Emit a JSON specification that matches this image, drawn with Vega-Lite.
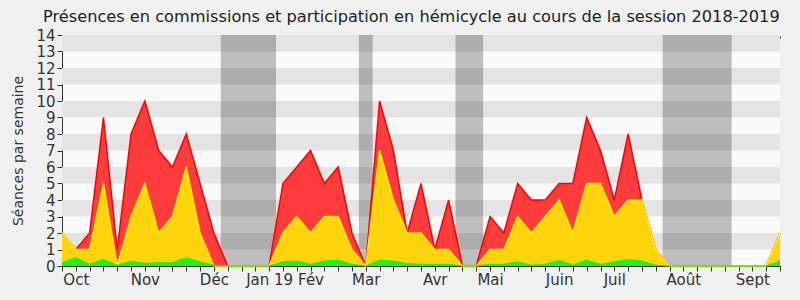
{
  "$schema": "https://vega.github.io/schema/vega-lite/v6.json",
  "width": 718,
  "height": 231,
  "autosize": {"type": "none"},
  "padding": {"left": 62, "top": 35, "right": 20, "bottom": 34},
  "background": "#f0f0f0",
  "title": {
    "text": "Présences en commissions et participation en hémicycle au cours de la session 2018-2019",
    "font": "DejaVu Sans",
    "fontSize": 16.2,
    "fontWeight": "normal",
    "color": "#222222",
    "anchor": "start",
    "frame": "group",
    "dx": -19,
    "offset": 3
  },
  "config": {
    "view": {"stroke": null, "fill": "#fafafa"},
    "axis": {"labelFont": "DejaVu Sans", "titleFont": "DejaVu Sans", "labelColor": "#333333", "titleColor": "#333333"}
  },
  "datasets": {
    "weeks": [
      {"w": 0, "t": 2, "h": 2, "g": 0.2},
      {"w": 1, "t": 1, "h": 1, "g": 0.5},
      {"w": 2, "t": 2, "h": 1, "g": 0.1},
      {"w": 3, "t": 9, "h": 5, "g": 0.4},
      {"w": 4, "t": 1, "h": 0, "g": 0.05},
      {"w": 5, "t": 8, "h": 3, "g": 0.3},
      {"w": 6, "t": 10, "h": 5, "g": 0.15},
      {"w": 7, "t": 7, "h": 2, "g": 0.2},
      {"w": 8, "t": 6, "h": 3, "g": 0.2},
      {"w": 9, "t": 8, "h": 6, "g": 0.5},
      {"w": 10, "t": 5, "h": 2, "g": 0.25},
      {"w": 11, "t": 2, "h": 0, "g": 0.05},
      {"w": 12, "t": 0, "h": 0, "g": 0},
      {"w": 13, "t": 0, "h": 0, "g": 0},
      {"w": 14, "t": 0, "h": 0, "g": 0},
      {"w": 15, "t": 0, "h": 0, "g": 0},
      {"w": 16, "t": 5, "h": 2, "g": 0.25},
      {"w": 17, "t": 6, "h": 3, "g": 0.3},
      {"w": 18, "t": 7, "h": 2, "g": 0.1},
      {"w": 19, "t": 5, "h": 3, "g": 0.3},
      {"w": 20, "t": 6, "h": 3, "g": 0.35},
      {"w": 21, "t": 2, "h": 1, "g": 0.1},
      {"w": 22, "t": 0, "h": 0, "g": 0},
      {"w": 23, "t": 10, "h": 7, "g": 0.35},
      {"w": 24, "t": 7, "h": 4, "g": 0.3},
      {"w": 25, "t": 2, "h": 2, "g": 0.15},
      {"w": 26, "t": 5, "h": 2, "g": 0.1},
      {"w": 27, "t": 1, "h": 1, "g": 0.1},
      {"w": 28, "t": 4, "h": 1, "g": 0.1},
      {"w": 29, "t": 0, "h": 0, "g": 0},
      {"w": 30, "t": 0, "h": 0, "g": 0},
      {"w": 31, "t": 3, "h": 1, "g": 0.1},
      {"w": 32, "t": 2, "h": 1, "g": 0.1},
      {"w": 33, "t": 5, "h": 3, "g": 0.25},
      {"w": 34, "t": 4, "h": 2, "g": 0.05},
      {"w": 35, "t": 4, "h": 3, "g": 0.1},
      {"w": 36, "t": 5, "h": 4, "g": 0.35},
      {"w": 37, "t": 5, "h": 2, "g": 0.05},
      {"w": 38, "t": 9, "h": 5, "g": 0.35},
      {"w": 39, "t": 7, "h": 5, "g": 0.1},
      {"w": 40, "t": 4, "h": 3, "g": 0.25},
      {"w": 41, "t": 8, "h": 4, "g": 0.4},
      {"w": 42, "t": 4, "h": 4, "g": 0.3},
      {"w": 43, "t": 1, "h": 1, "g": 0.05},
      {"w": 44, "t": 0, "h": 0, "g": 0},
      {"w": 45, "t": 0, "h": 0, "g": 0},
      {"w": 46, "t": 0, "h": 0, "g": 0},
      {"w": 47, "t": 0, "h": 0, "g": 0},
      {"w": 48, "t": 0, "h": 0, "g": 0},
      {"w": 49, "t": 0, "h": 0, "g": 0},
      {"w": 50, "t": 0, "h": 0, "g": 0},
      {"w": 51, "t": 0, "h": 0, "g": 0},
      {"w": 52, "t": 2, "h": 2, "g": 0.3}
    ],
    "stripes": [
      {"lo": 1, "hi": 2}, {"lo": 3, "hi": 4}, {"lo": 5, "hi": 6}, {"lo": 7, "hi": 8},
      {"lo": 9, "hi": 10}, {"lo": 11, "hi": 12}, {"lo": 13, "hi": 14}
    ],
    "vacances": [
      {"from": 11.5, "to": 15.5},
      {"from": 21.5, "to": 22.5},
      {"from": 28.5, "to": 30.5},
      {"from": 43.5, "to": 48.5}
    ]
  },
  "resolve": {"axis": {"x": "independent", "y": "independent"}},
  "layer": [
    {
      "data": {"name": "stripes"},
      "mark": {"type": "rect", "fill": "#e4e4e4"},
      "encoding": {
        "y": {"field": "lo", "type": "quantitative", "scale": {"domain": [0, 14], "nice": false}, "axis": null},
        "y2": {"field": "hi"}
      }
    },
    {
      "data": {"name": "vacances"},
      "mark": {"type": "rect", "fill": "#000000", "opacity": 0.24},
      "encoding": {
        "x": {"field": "from", "type": "quantitative", "scale": {"domain": [0, 52], "nice": false, "zero": false},
              "axis": {"orient": "top", "values": [0,1,2,3,4,5,6,7,8,9,10,11,12,13,14,15,16,17,18,19,20,21,22,23,24,25,26,27,28,29,30,31,32,33,34,35,36,37,38,39,40,41,42,43,44,45,46,47,48,49,50,51,52],
                       "labels": false, "domain": false, "grid": false, "ticks": true, "tickSize": 2, "offset": -3, "tickColor": "#333333", "tickWidth": 1, "title": null}},
        "x2": {"field": "to"}
      }
    },
    {
      "data": {"name": "weeks"},
      "mark": {"type": "area", "fill": "#ff3c3c", "opacity": 1, "line": {"color": "#ff0000", "strokeWidth": 1.5}},
      "encoding": {
        "x": {"field": "w", "type": "quantitative",
              "axis": {"orient": "bottom", "values": [0,1,2,3,4,5,6,7,8,9,10,11,12,13,14,15,16,17,18,19,20,21,22,23,24,25,26,27,28,29,30,31,32,33,34,35,36,37,38,39,40,41,42,43,44,45,46,47,48,49,50,51,52],
                       "labelExpr": "indexof([1,6,11,15,18,22,27,31,36,40,45,50], datum.value) >= 0 ? ['Oct','Nov','Déc','Jan 19','Fév','Mar','Avr','Mai','Juin','Juil','Août','Sept'][indexof([1,6,11,15,18,22,27,31,36,40,45,50], datum.value)] : ''",
                       "labelOverlap": false, "labelFontSize": 15, "labelPadding": 1,
                       "grid": false, "domainColor": "#333333", "tickColor": "#333333", "tickSize": 5, "title": null}},
        "y": {"field": "t", "type": "quantitative", "stack": null,
              "axis": {"values": [0,1,2,3,4,5,6,7,8,9,10,11,12,13,14], "labelOverlap": false, "grid": false, "labelFontSize": 15, "labelPadding": 2, "tickSize": 5,
                       "domainColor": "#333333", "tickColor": "#333333", "title": "Séances par semaine", "titleFontSize": 14, "titleFontWeight": "normal", "titlePadding": 10}}
      }
    },
    {
      "data": {"name": "weeks"},
      "mark": {"type": "area", "fill": "#ffd40c", "opacity": 1, "line": {"color": "#ffee00", "strokeWidth": 1.5}},
      "encoding": {
        "x": {"field": "w", "type": "quantitative", "axis": null},
        "y": {"field": "h", "type": "quantitative", "stack": null, "axis": null}
      }
    },
    {
      "data": {"name": "weeks"},
      "mark": {"type": "area", "fill": "#22ee22", "opacity": 1, "line": {"color": "#00ff00", "strokeWidth": 1}},
      "encoding": {
        "x": {"field": "w", "type": "quantitative", "axis": null},
        "y": {"field": "g", "type": "quantitative", "stack": null, "axis": null}
      }
    }
  ]
}
